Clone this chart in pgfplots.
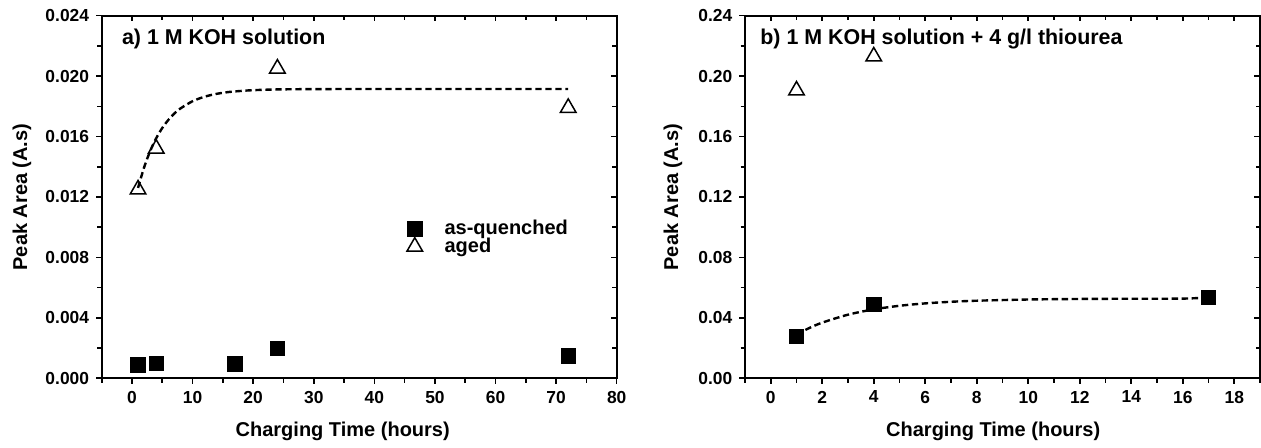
\documentclass[border=0pt]{standalone}
\usepackage{fontspec}
\setmainfont{Liberation Sans}
\usepackage{pgfplots}
\pgfplotsset{compat=1.18}

\pgfplotsset{
  base/.style={
    scale only axis, width=257.5pt, height=181.3pt,
    axis line style={line width=1pt},
    major tick length=2.8pt, minor tick length=2.2pt,
    every tick/.append style={line width=0.8pt, black},
    scaled y ticks=false, clip=false,
  },
  limitsA/.style={
    xmin=-5, xmax=80, ymin=0, ymax=0.024,
    xtick={0,10,20,30,40,50,60,70,80},
    minor xtick={-5,5,15,25,35,45,55,65,75},
    ytick={0,0.004,0.008,0.012,0.016,0.020,0.024},
    minor ytick={0.002,0.006,0.010,0.014,0.018,0.022},
  },
  limitsB/.style={
    xmin=-1, xmax=19, ymin=0, ymax=0.24,
    xtick={0,2,4,6,8,10,12,14,16,18},
    minor xtick={-1,1,3,5,7,9,11,13,15,17,19},
    ytick={0,0.04,0.08,0.12,0.16,0.20,0.24},
    minor ytick={0.02,0.06,0.10,0.14,0.18,0.22},
  },
  labelled/.style={
    tick align=outside, xtick pos=left, ytick pos=left,
    tick label style={font=\fontsize{8.7}{10}\selectfont\bfseries},
    /pgf/number format/assume math mode=true,
    label style={font=\fontsize{10}{12}\selectfont\bfseries},
    xlabel={Charging Time (hours)}, ylabel={Peak Area (A.s)},
  },
  frame/.style={
    tick align=inside, xtick pos=right, ytick pos=right,
    xticklabels={}, yticklabels={},
  },
  quenched/.style={only marks, mark=square*, mark size=3.65pt, black, mark options={fill=black}},
  aged/.style={only marks, mark=triangle, mark size=4.5pt, black, mark options={line width=0.75pt, fill=none}},
  fit/.style={black, line width=1.2pt, dash pattern=on 3.2pt off 1.8pt, smooth, forget plot},
}

\begin{document}
\begin{tikzpicture}
% panel a
\begin{axis}[base, limitsA, frame]
\end{axis}
\begin{axis}[base, limitsA, labelled,
    yticklabel style={/pgf/number format/.cd, fixed, fixed zerofill, precision=3},
    xlabel style={at={(axis description cs:0.468,-0.147)}, anchor=center},
    ylabel style={at={(axis description cs:-0.155,0.5)}, anchor=center},
    legend style={at={(axis description cs:0.592,0.442)}, anchor=north west,
        draw=none, fill=none, inner sep=0pt, row sep=-2pt,
        font=\fontsize{10}{12}\selectfont\bfseries,
        nodes={inner sep=1pt},
        /tikz/every odd column/.append style={column sep=10pt}},
    legend cell align=left,
    legend image code/.code={\draw[#1] plot coordinates {(0pt,0pt)};},
]
\addplot[fit] coordinates {
  (1,0.01260) (2,0.01396) (3,0.01504) (4,0.01589) (5,0.01657) (6,0.01710)
  (7,0.01753) (8,0.01786) (10,0.01834) (12,0.01864) (14,0.01883) (16,0.01895)
  (18,0.01902) (20,0.01907) (24,0.01912) (30,0.01914) (40,0.01915)
  (50,0.01915) (60,0.01915) (72,0.01915)
};
\addplot[quenched] coordinates {
  (1,0.00088) (4,0.00099) (17,0.00097) (24,0.00199) (72,0.00150)
};
\addlegendentry{as-quenched}
\addplot[aged] coordinates {
  (1,0.0125) (4,0.0152) (24,0.0205) (72,0.0179)
};
\addlegendentry{aged}
\node[anchor=west, font=\fontsize{10.7}{12}\selectfont\bfseries]
  at (rel axis cs:0.0258,0.936) {a) 1 M KOH solution};
\end{axis}

% panel b
\begin{axis}[base, limitsB, frame, at={(321.65pt,0pt)}]
\end{axis}
\begin{axis}[base, limitsB, labelled, at={(321.65pt,0pt)},
    yticklabel style={/pgf/number format/.cd, fixed, fixed zerofill, precision=2},
    xlabel style={at={(axis description cs:0.482,-0.147)}, anchor=center},
    ylabel style={at={(axis description cs:-0.140,0.5)}, anchor=center},
]
\addplot[fit] coordinates {
  (1,0.0290) (1.5,0.03331) (2,0.03685) (3,0.04211) (4,0.04563) (5,0.0480)
  (6,0.04958) (7,0.05064) (8,0.05135) (10,0.05215) (12,0.05251)
  (14,0.05267) (16,0.05274) (17,0.0535)
};
\addplot[quenched] coordinates {
  (1,0.0276) (4,0.0490) (17,0.0536)
};
\addplot[aged] coordinates {
  (1,0.1905) (4,0.2130)
};
\node[anchor=west, font=\fontsize{10.7}{12}\selectfont\bfseries]
  at (rel axis cs:0.0162,0.936) {b) 1 M KOH solution + 4 g/l thiourea};
\end{axis}

\pgfresetboundingbox
\path[use as bounding box] (-50.85pt,-34.85pt) rectangle (579.65pt,189.15pt);
\end{tikzpicture}
\end{document}
